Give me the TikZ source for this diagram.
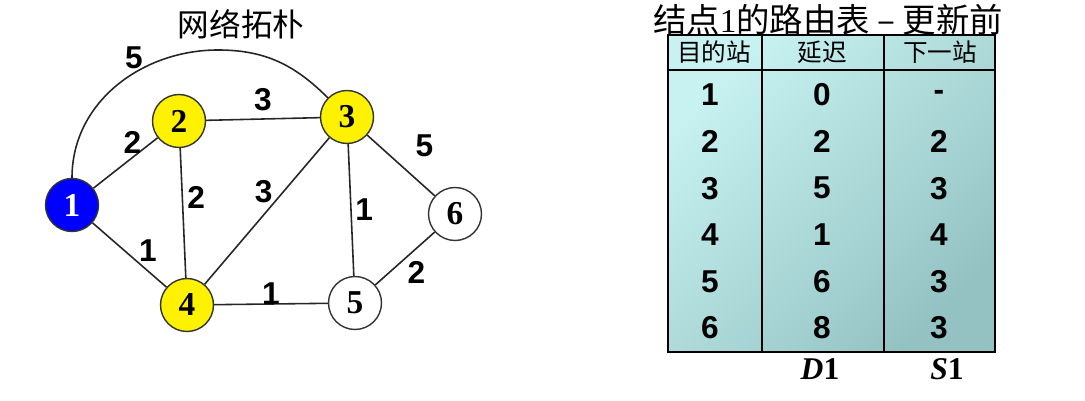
\documentclass[tikz,border=0pt]{standalone}
\usepackage{fontspec}
\setmainfont{Liberation Sans}
\newfontfamily\cjk{Noto Sans CJK SC}
\newfontfamily\tms{Liberation Serif}
\definecolor{tablight}{RGB}{200,242,242}
\definecolor{tabdark}{RGB}{148,194,194}
\begin{document}
\begin{tikzpicture}[x=0.02cm,y=-0.02cm,
        router/.style={circle,draw=black!80,line width=0.8pt,minimum size=1.06cm,inner sep=0pt,font=\tms\bfseries\fontsize{19}{19}\selectfont},
        link/.style={line width=0.9pt,draw=black!85},
        weight/.style={font=\bfseries\fontsize{18}{18}\selectfont,inner sep=1pt},
        cell/.style={font=\bfseries\fontsize{18}{18}\selectfont},
        head/.style={font=\cjk\fontsize{14}{14}\selectfont},
        rule/.style={line width=1.1pt}]
        \useasboundingbox(0,0)rectangle(1085,401);
        \node[font=\cjk\fontsize{18}{18}\selectfont](topo)at(241,24){网络拓朴};
        \node[router,fill=blue,text=white](r1)at(72,205){1};
        \node[router,fill=yellow](r2)at(179,121){2};
        \node[router,fill=yellow](r3)at(347,117){3};
        \node[router,fill=yellow](r4)at(187,305){4};
        \node[router,fill=white](r5)at(355,303){5};
        \node[router,fill=white](r6)at(455,214){6};
        \coordinate(arctop)at(218,50);
        \draw[link](r1.north)to[out=90,in=180]node[weight,pos=0.6,above=1pt]{5}(arctop)to[out=0,in=135](r3.north west);
        \draw[link](r1)--(r2)node[weight,midway,above=4pt,xshift=4pt]{2};
        \draw[link](r2)--(r3)node[weight,midway,above=3pt]{3};
        \draw[link](r2)--(r4)node[weight,midway,above right=1pt]{2};
        \draw[link](r4)--(r3)node[weight,pos=0.55,above left=-1pt]{3};
        \draw[link](r3)--(r5)node[weight,midway,right=1pt]{1};
        \draw[link](r3)--(r6)node[weight,pos=0.55,above right=5pt]{5};
        \draw[link](r1)--(r4)node[weight,pos=0.62,above right=-1pt]{1};
        \draw[link](r4)--(r5)node[weight,midway,above=-2pt]{1};
        \draw[link](r5)--(r6)node[weight,midway,below right=0pt]{2};
        \node[font=\cjk\fontsize{19}{19}\selectfont](rtitle)at(828,20){结点{\tms 1}的路由表 – 更新前};
        \coordinate(tl)at(668,35);
        \coordinate(br)at(995,352);
        \shade[top color=tablight,bottom color=tabdark,shading angle=45](tl)rectangle(br);
        \draw[rule](tl)rectangle(br);
        \draw[rule](668,70)--(995,70);
        \draw[rule](762,35)--(762,352);
        \draw[rule](884,35)--(884,352);
        \node[head](hdst)at(714,52){目的站};
        \node[head](hdly)at(822,52){延迟};
        \node[head](hnxt)at(940,52){下一站};
        \foreach \d/\t/\s[count=\i]in{1/0/-,2/2/2,3/5/3,4/1/4,5/6/3,6/8/3}{
            \node[cell](dst\i)at(710,{48.4+46.6*\i}){\d};
            \node[cell](dly\i)at(822,{48.4+46.6*\i}){\t};
            \node[cell](nxt\i)at(939,{48.4+46.6*\i}){\s};
        }
        \node[font=\tms\bfseries\fontsize{18}{18}\selectfont](dcol)at(820,369){\textit{D}1};
        \node[font=\tms\bfseries\fontsize{18}{18}\selectfont](scol)at(947,369){\textit{S}1};
    \end{tikzpicture}
\end{document}
